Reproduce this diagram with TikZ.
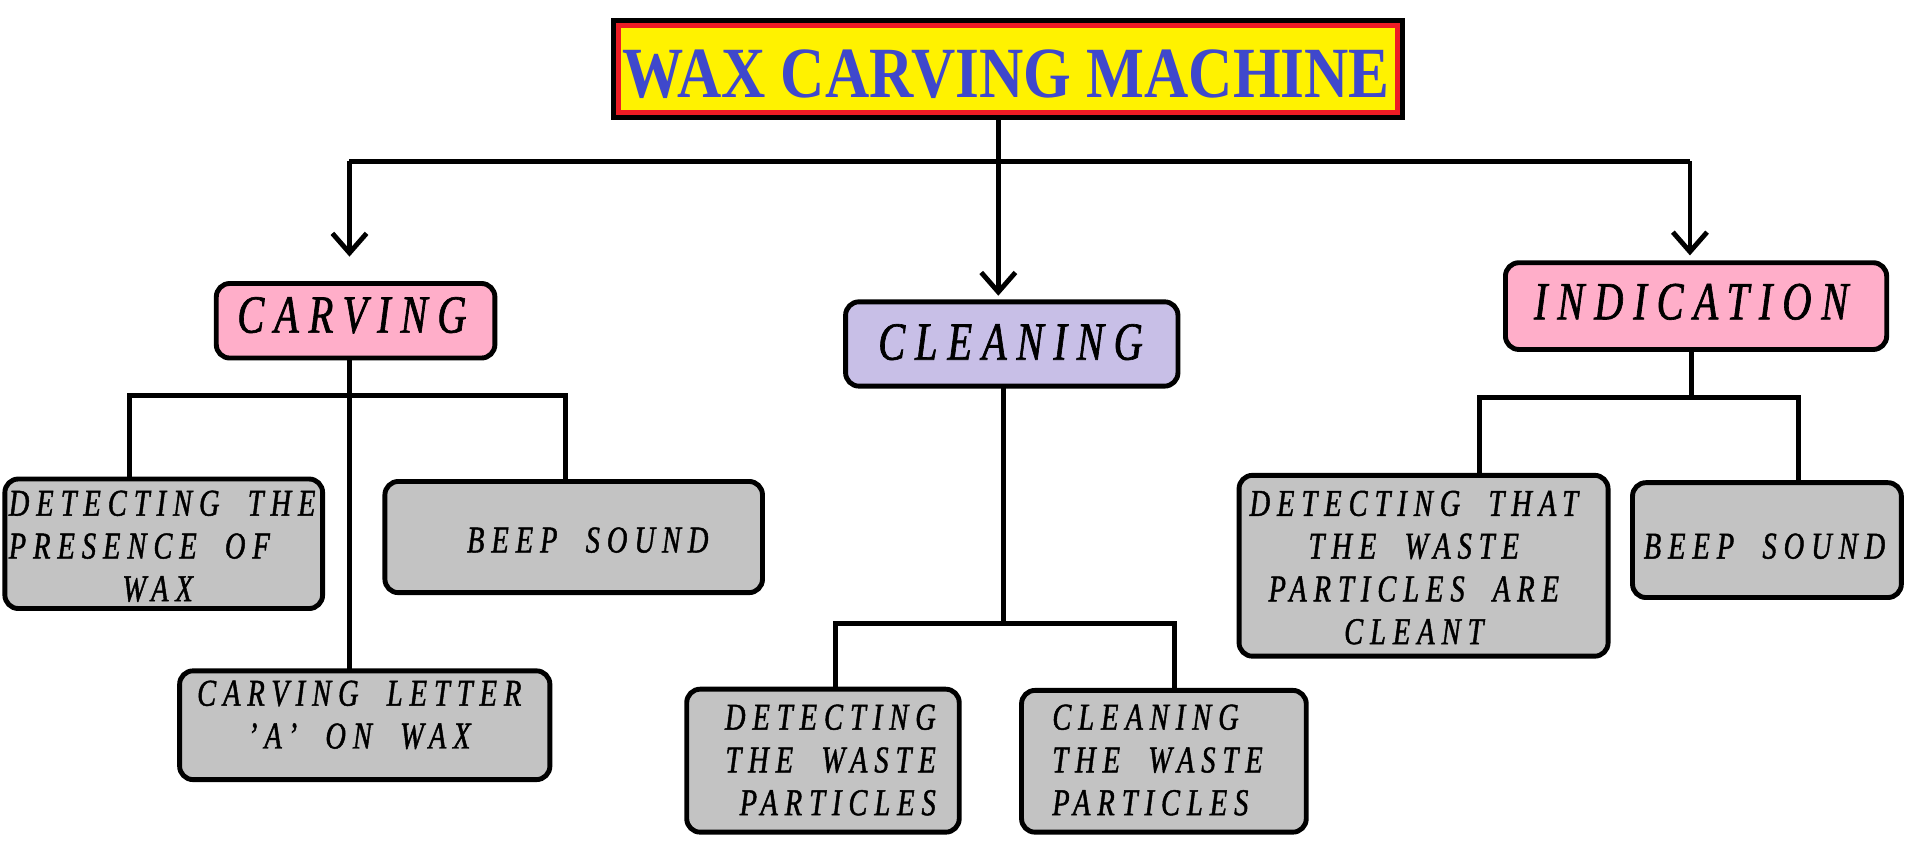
\documentclass[tikz,border=0pt]{standalone}
\usepackage{fontspec}
\usepackage{graphicx}
\usetikzlibrary{arrows.meta}
\newfontfamily\titlefont{Liberation Serif}
\newfontfamily\lblfont[FakeStretch=0.75,LetterSpace=18.5,WordSpace=2,FakeBold=1.2]{Liberation Serif}
\definecolor{pinkfill}{RGB}{255,174,201}
\definecolor{lavfill}{RGB}{200,191,231}
\definecolor{grayfill}{RGB}{195,195,195}
\definecolor{titleblue}{RGB}{63,72,204}
\definecolor{titlered}{RGB}{237,28,36}
\definecolor{titleyellow}{RGB}{255,242,0}
\begin{document}
\begin{tikzpicture}[x=1pt,y=-1pt,
  box/.style={draw=black, line width=4pt, rounded corners=11pt, inner sep=0pt, outer sep=0pt},
  mainbox/.style={box, fill=pinkfill},
  cleanbox/.style={box, fill=lavfill},
  subbox/.style={box, fill=grayfill},
  bigtxt/.style={font=\lblfont\itshape\fontsize{44}{44}\selectfont, inner sep=0pt},
  smalltxt/.style={font=\lblfont\itshape\fontsize{31}{35}\selectfont, inner sep=0pt},
  link/.style={line width=4pt},
  arr/.style={line width=4pt, -{Straight Barb[length=16pt,width=28pt]}}]
\useasboundingbox (0,0) rectangle (1568,691);
% title
\node[draw=black, line width=4pt, minimum width=646pt, minimum height=79pt, inner sep=0pt, outer sep=0pt] (frame) at (825,56.5) {};
\node[draw=titlered, fill=titleyellow, line width=4pt, minimum width=638pt, minimum height=71pt, inner sep=0pt, outer sep=0pt] (title) at (825,56.5) {};
\node[anchor=base, inner sep=0pt, text=titleblue, font=\titlefont\bfseries\fontsize{59}{59}\selectfont] (titletxt) at (823.5,80) {\scalebox{0.85}[1]{WAX CARVING MACHINE}};
% main boxes
\node[mainbox, minimum width=228pt, minimum height=61pt] (carving) at (291,262.5) {};
\node[cleanbox, minimum width=272pt, minimum height=69pt] (cleaning) at (828,281.5) {};
\node[mainbox, minimum width=312pt, minimum height=71pt] (indication) at (1388,250.5) {};
\node[bigtxt] (carvingtxt) at (288,258) {CARVING};
\node[bigtxt] (cleaningtxt) at (827,280) {CLEANING};
\node[bigtxt] (indicationtxt) at (1384,247) {INDICATION};
% sub boxes
\node[subbox, minimum width=260pt, minimum height=106pt] (presence) at (134,445) {};
\node[subbox, minimum width=309pt, minimum height=91pt] (beep1) at (469.5,439.5) {};
\node[subbox, minimum width=303pt, minimum height=89pt] (letter) at (298.5,593.5) {};
\node[subbox, minimum width=223pt, minimum height=117pt] (detwaste) at (673.5,622.5) {};
\node[subbox, minimum width=233pt, minimum height=116pt] (cleanwaste) at (952.5,623) {};
\node[subbox, minimum width=302pt, minimum height=148pt] (detclean) at (1165,463) {};
\node[subbox, minimum width=220pt, minimum height=94pt] (beep2) at (1446,442) {};
% sub texts
\node[smalltxt, align=left, anchor=west] (presencetxt) at (7,447) {DETECTING THE\\PRESENCE OF\\\hspace*{93pt}WAX};
\node[smalltxt] (beep1txt) at (481,442) {BEEP SOUND};
\node[smalltxt, align=center] (lettertxt) at (294,585) {CARVING LETTER\\’A’ ON WAX};
\node[smalltxt, align=right, anchor=east] (detwastetxt) at (766,622) {DETECTING\\THE WASTE\\PARTICLES};
\node[smalltxt, align=left, anchor=west] (cleanwastetxt) at (861,622) {CLEANING\\THE WASTE\\PARTICLES};
\node[smalltxt, align=center] (detcleantxt) at (1157,464.5) {DETECTING THAT\\THE WASTE\\PARTICLES ARE\\CLEANT};
\node[smalltxt] (beep2txt) at (1444,447) {BEEP SOUND};
% connectors top
\coordinate (ctop) at (817,132);
\coordinate (cL) at (286,132);
\coordinate (cR) at (1383,132);
\draw[link] (cL) -- (cR);
\draw[arr, shorten >=5pt] (frame.south -| ctop) -- (cleaning.north -| ctop);
\draw[arr, shorten >=22pt] (cL) -- (carving.north -| cL);
\draw[arr, shorten >=6pt] (cR) -- (indication.north -| cR);
% carving subtree
\coordinate (c1) at (286,324);
\coordinate (cPa) at (106,324);
\coordinate (cPb) at (463,324);
\draw[link] (carving.south -| c1) -- (letter.north -| c1);
\draw[link] (presence.north -| cPa) -- (cPa) -- (cPb) -- (beep1.north -| cPb);
% cleaning subtree
\coordinate (cC) at (821,510);
\coordinate (cCa) at (684,510);
\coordinate (cCb) at (961,510);
\draw[link] (cleaning.south -| cC) -- (cC);
\draw[link] (detwaste.north -| cCa) -- (cCa) -- (cCb) -- (cleanwaste.north -| cCb);
% indication subtree
\coordinate (cI) at (1384,325);
\coordinate (cIa) at (1211,325);
\coordinate (cIb) at (1472,325);
\draw[link] (indication.south -| cI) -- (cI);
\draw[link] (detclean.north -| cIa) -- (cIa) -- (cIb) -- (beep2.north -| cIb);
\end{tikzpicture}
\end{document}
